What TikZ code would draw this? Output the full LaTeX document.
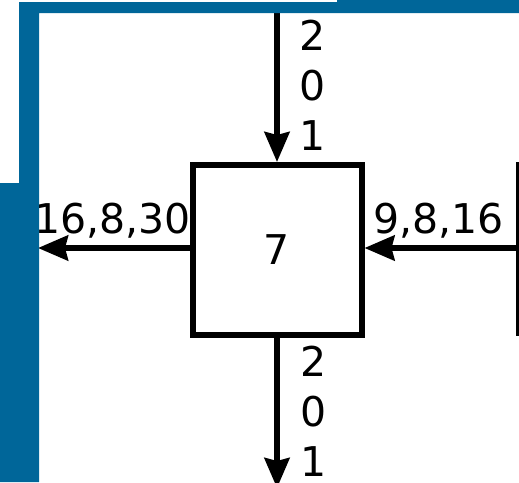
\documentclass[tikz,border=0pt]{standalone}
\usepackage{fontspec}
\setmainfont{DejaVu Sans}
\usetikzlibrary{arrows.meta}
\definecolor{frameblue}{RGB}{0,102,153}
\begin{document}
\begin{tikzpicture}[x=1pt,y=-1pt,
  frame/.style={fill=frameblue,draw=none},
  cell/.style={draw,line width=6pt,minimum width=169pt,minimum height=170pt,inner sep=0pt,font=\fontsize{41}{50}\selectfont},
  wire/.style={line width=5.5pt,-{Stealth[length=30pt,width=25pt,inset=3pt]}},
  lbl/.style={inner sep=0pt,font=\fontsize{41}{50}\selectfont},
  vlbl/.style={lbl,align=center,anchor=north}]
\useasboundingbox (0,0) rectangle (519,482);
\clip (0,0) rectangle (519,482);

% central block
\node[cell] (b) at (277,250) {7};

% end points of the connectors
\coordinate (topin) at (277,13);
\coordinate (botout) at (277,488);
\coordinate (leftout) at (38,248);
\coordinate (rightin) at (518,248);
\coordinate (railtop) at (518,162);
\coordinate (railbot) at (518,336);

% connectors
\draw[wire] (topin) -- (b.north);
\draw[wire] (b.south) -- (botout);
\draw[wire] (b.west |- leftout) -- (leftout);
\draw[wire] (rightin) -- (b.east |- rightin);
\draw[line width=3.5pt] (railtop) -- (railbot);

% labels
\node[lbl,anchor=base east] (lw) at (191,233) {16,8,30};
\node[lbl,anchor=base west] (le) at (373,233) {9,8,16};
\node[vlbl] (lt) at (313,20) {2\\0\\1};
\node[vlbl] (lb) at (314,346) {2\\0\\1};

% blue frame
\path[frame] (19,2) -- (337,2) -- (337,0) -- (519,0) -- (519,13) -- (39,13)
  -- (39,482) -- (0,482) -- (0,183) -- (19,183) -- cycle;
\end{tikzpicture}
\end{document}
